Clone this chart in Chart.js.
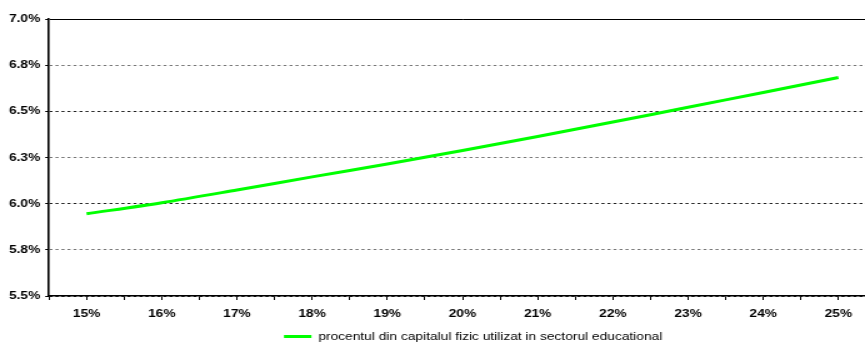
<!DOCTYPE html>
<html>
<head>
<meta charset="utf-8">
<script src="https://cdn.jsdelivr.net/npm/chart.js@4/dist/chart.umd.min.js"></script>
<style>
    html, body { margin: 0; padding: 0; background: #fff; overflow: hidden; width: 865px; height: 347px; }
    /* the chart is drawn narrow and widened horizontally, like the original export */
    #wrap { width: 757px; height: 352px; transform: scaleX(1.25); transform-origin: 0 0; }
</style>
</head>
<body>
<div id="wrap"><canvas id="chartCapital"></canvas></div>
<script>
// rata (in %) pe axa orizontala
const rates = [15, 16, 17, 18, 19, 20, 21, 22, 23, 24, 25];
// procentul din capitalul fizic utilizat in sectorul educational (%)
const capitalShare = [5.945, 6.005, 6.074, 6.145, 6.215, 6.288, 6.364, 6.442, 6.522, 6.602, 6.683];
const seriesLabel = 'procentul din capitalul fizic utilizat in sectorul educational';

const points = rates.map((r, i) => ({ x: r, y: capitalShare[i] }));

Chart.defaults.font.family = '"Liberation Sans", Arial, sans-serif';
Chart.defaults.color = '#000';

const ctx = document.getElementById('chartCapital').getContext('2d');

new Chart(ctx, {
    type: 'line',
    data: {
        datasets: [{
            label: seriesLabel,
            data: points,
            borderColor: '#00ff00',
            backgroundColor: '#00ff00',
            borderWidth: 3,
            pointRadius: 0,
            pointStyle: 'line',
            tension: 0.3
        }]
    },
    options: {
        responsive: true,
        maintainAspectRatio: false,
        animation: false,
        layout: { padding: { top: 19, left: 0, right: 0, bottom: 0 } },
        plugins: {
            tooltip: { enabled: false },
            legend: {
                position: 'bottom',
                labels: {
                    usePointStyle: true,
                    pointStyleWidth: 22,
                    boxHeight: 11,
                    padding: 3,
                    font: { size: 11 }
                }
            }
        },
        scales: {
            x: {
                type: 'linear',
                min: 14.5,
                max: 25.5,
                afterFit: s => { s.height = 32; },
                ticks: {
                    stepSize: 0.5,
                    autoSkip: false,
                    maxRotation: 0,
                    padding: 7,
                    font: { size: 11, weight: 'bold' },
                    callback: v => (v % 1 === 0 ? v + '%' : '')
                },
                grid: { drawOnChartArea: false, tickLength: 4, tickColor: '#000', tickWidth: 1 },
                border: { color: '#000', width: 1.5 }
            },
            y: {
                min: 5.5,
                max: 7.0,
                afterFit: s => { s.width = 39.2; },
                ticks: {
                    stepSize: 0.25,
                    padding: 4,
                    font: { size: 11, weight: 'bold' },
                    callback: v => (Math.round(v * 10 + 1e-6) / 10).toFixed(1) + '%'
                },
                grid: {
                    tickLength: 3,
                    lineWidth: 1,
                    color: c => {
                        const v = c.tick ? c.tick.value : 0;
                        if (Math.abs(v - 7) < 1e-6) return '#000';
                        return Math.abs((v * 4) % 2 - 1) < 1e-6 ? '#777' : '#222';
                    },
                    tickColor: '#000',
                    tickBorderDash: []
                },
                border: {
                    color: '#000',
                    width: 1.6,
                    dash: c => (c.tick && Math.abs(c.tick.value - 7) < 1e-6 ? [] : [2.4, 2.4])
                }
            },
            // spatiu liber in dreapta zonei graficului
            yPad: {
                position: 'right',
                display: true,
                afterFit: s => { s.width = 56.2; },
                ticks: { display: false },
                grid: { display: false },
                border: { display: false }
            }
        }
    }
});
</script>
</body>
</html>
